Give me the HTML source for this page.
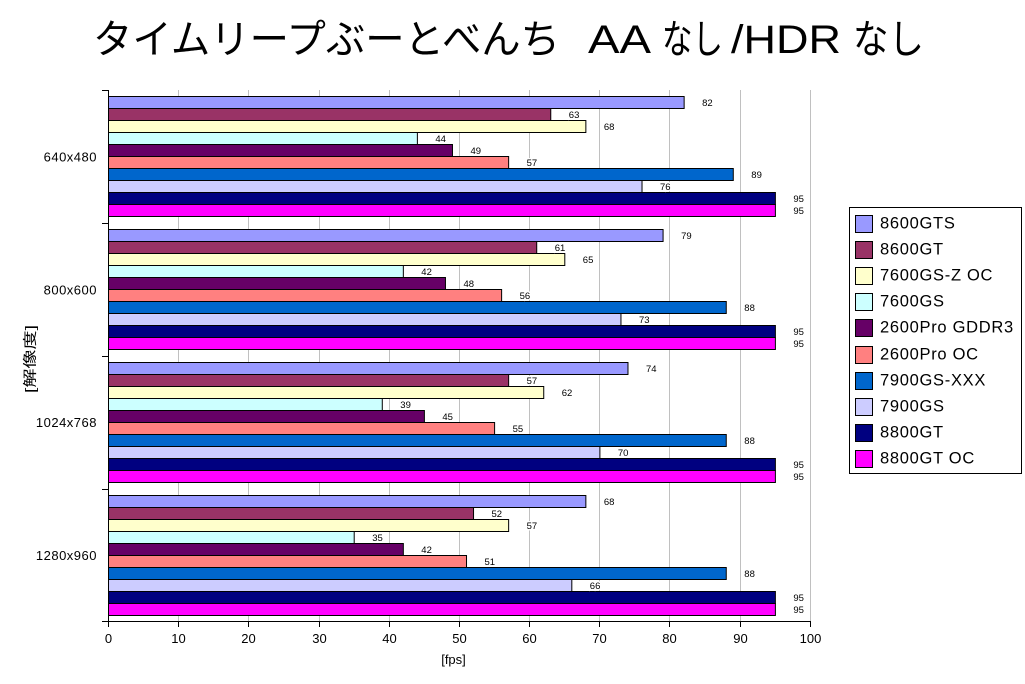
<!DOCTYPE html>
<html><head><meta charset="utf-8"><style>
html,body{margin:0;padding:0;background:#fff;}
svg{display:block;}
text{font-family:"Liberation Sans","Noto Sans CJK JP",sans-serif;fill:#000;}
.t{font-family:"Noto Sans CJK JP","Liberation Sans",sans-serif;font-size:40px;}
.tl{font-family:"Liberation Sans","Noto Sans CJK JP",sans-serif;font-size:40px;}
.dl{font-size:9.5px;stroke:#fff;stroke-width:3;paint-order:stroke;}
.ax{font-size:13px;}
.lg{font-size:16.5px;letter-spacing:0.7px;}
rect.b{stroke:#000;stroke-width:1;}
</style></head><body>
<svg width="1025" height="684" viewBox="0 0 1025 684" xmlns="http://www.w3.org/2000/svg">
<rect width="1025" height="684" fill="#fff"/>
<!-- Title -->
<text class="t" x="93" y="53" textLength="467" lengthAdjust="spacingAndGlyphs">タイムリープぶーとべんち</text>
<text class="tl" x="588" y="53" textLength="63" lengthAdjust="spacingAndGlyphs">AA</text>
<text class="t" x="662" y="53" textLength="61" lengthAdjust="spacingAndGlyphs">なし</text>
<text class="tl" x="731" y="53" textLength="110" lengthAdjust="spacingAndGlyphs">/HDR</text>
<text class="t" x="853" y="53" textLength="71" lengthAdjust="spacingAndGlyphs">なし</text>

<!-- gridlines -->
<g stroke="#c0c0c0" stroke-width="1">
<line x1="178.5" y1="90" x2="178.5" y2="621"/>
<line x1="248.5" y1="90" x2="248.5" y2="621"/>
<line x1="319.5" y1="90" x2="319.5" y2="621"/>
<line x1="389.5" y1="90" x2="389.5" y2="621"/>
<line x1="459.5" y1="90" x2="459.5" y2="621"/>
<line x1="529.5" y1="90" x2="529.5" y2="621"/>
<line x1="599.5" y1="90" x2="599.5" y2="621"/>
<line x1="669.5" y1="90" x2="669.5" y2="621"/>
<line x1="740.5" y1="90" x2="740.5" y2="621"/>
<line x1="810.5" y1="90" x2="810.5" y2="621"/>
</g>

<!-- bars group 0 -->
<g>
<rect class="b" x="108.5" y="96.5" width="575.64" height="12" fill="#9999FF"/>
<rect class="b" x="108.5" y="108.5" width="442.26" height="12" fill="#993366"/>
<rect class="b" x="108.5" y="120.5" width="477.36" height="12" fill="#FFFFCC"/>
<rect class="b" x="108.5" y="132.5" width="308.88" height="12" fill="#CCFFFF"/>
<rect class="b" x="108.5" y="144.5" width="343.98" height="12" fill="#660066"/>
<rect class="b" x="108.5" y="156.5" width="400.14" height="12" fill="#FF8080"/>
<rect class="b" x="108.5" y="168.5" width="624.78" height="12" fill="#0066CC"/>
<rect class="b" x="108.5" y="180.5" width="533.52" height="12" fill="#CCCCFF"/>
<rect class="b" x="108.5" y="192.5" width="666.9" height="12" fill="#000080"/>
<rect class="b" x="108.5" y="204.5" width="666.9" height="12" fill="#FF00FF"/>
</g>
<g>
<rect class="b" x="108.5" y="229.5" width="554.58" height="12" fill="#9999FF"/>
<rect class="b" x="108.5" y="241.5" width="428.22" height="12" fill="#993366"/>
<rect class="b" x="108.5" y="253.5" width="456.3" height="12" fill="#FFFFCC"/>
<rect class="b" x="108.5" y="265.5" width="294.84" height="12" fill="#CCFFFF"/>
<rect class="b" x="108.5" y="277.5" width="336.96" height="12" fill="#660066"/>
<rect class="b" x="108.5" y="289.5" width="393.12" height="12" fill="#FF8080"/>
<rect class="b" x="108.5" y="301.5" width="617.76" height="12" fill="#0066CC"/>
<rect class="b" x="108.5" y="313.5" width="512.46" height="12" fill="#CCCCFF"/>
<rect class="b" x="108.5" y="325.5" width="666.9" height="12" fill="#000080"/>
<rect class="b" x="108.5" y="337.5" width="666.9" height="12" fill="#FF00FF"/>
</g>
<g>
<rect class="b" x="108.5" y="362.5" width="519.48" height="12" fill="#9999FF"/>
<rect class="b" x="108.5" y="374.5" width="400.14" height="12" fill="#993366"/>
<rect class="b" x="108.5" y="386.5" width="435.24" height="12" fill="#FFFFCC"/>
<rect class="b" x="108.5" y="398.5" width="273.78" height="12" fill="#CCFFFF"/>
<rect class="b" x="108.5" y="410.5" width="315.9" height="12" fill="#660066"/>
<rect class="b" x="108.5" y="422.5" width="386.1" height="12" fill="#FF8080"/>
<rect class="b" x="108.5" y="434.5" width="617.76" height="12" fill="#0066CC"/>
<rect class="b" x="108.5" y="446.5" width="491.4" height="12" fill="#CCCCFF"/>
<rect class="b" x="108.5" y="458.5" width="666.9" height="12" fill="#000080"/>
<rect class="b" x="108.5" y="470.5" width="666.9" height="12" fill="#FF00FF"/>
</g>
<g>
<rect class="b" x="108.5" y="495.5" width="477.36" height="12" fill="#9999FF"/>
<rect class="b" x="108.5" y="507.5" width="365.04" height="12" fill="#993366"/>
<rect class="b" x="108.5" y="519.5" width="400.14" height="12" fill="#FFFFCC"/>
<rect class="b" x="108.5" y="531.5" width="245.7" height="12" fill="#CCFFFF"/>
<rect class="b" x="108.5" y="543.5" width="294.84" height="12" fill="#660066"/>
<rect class="b" x="108.5" y="555.5" width="358.02" height="12" fill="#FF8080"/>
<rect class="b" x="108.5" y="567.5" width="617.76" height="12" fill="#0066CC"/>
<rect class="b" x="108.5" y="579.5" width="463.32" height="12" fill="#CCCCFF"/>
<rect class="b" x="108.5" y="591.5" width="666.9" height="12" fill="#000080"/>
<rect class="b" x="108.5" y="603.5" width="666.9" height="12" fill="#FF00FF"/>
</g>

<!-- data labels -->
<g class="dl">
<text class="dl" x="702.1" y="106">82</text>
<text class="dl" x="568.8" y="118">63</text>
<text class="dl" x="603.9" y="130">68</text>
<text class="dl" x="435.4" y="142">44</text>
<text class="dl" x="470.5" y="154">49</text>
<text class="dl" x="526.6" y="166">57</text>
<text class="dl" x="751.3" y="178">89</text>
<text class="dl" x="660.0" y="190">76</text>
<text class="dl" x="793.4" y="202">95</text>
<text class="dl" x="793.4" y="214">95</text>

<text class="dl" x="681.1" y="239">79</text>
<text class="dl" x="554.7" y="251">61</text>
<text class="dl" x="582.8" y="263">65</text>
<text class="dl" x="421.3" y="275">42</text>
<text class="dl" x="463.5" y="287">48</text>
<text class="dl" x="519.6" y="299">56</text>
<text class="dl" x="744.3" y="311">88</text>
<text class="dl" x="639.0" y="323">73</text>
<text class="dl" x="793.4" y="335">95</text>
<text class="dl" x="793.4" y="347">95</text>

<text class="dl" x="646.0" y="372">74</text>
<text class="dl" x="526.6" y="384">57</text>
<text class="dl" x="561.7" y="396">62</text>
<text class="dl" x="400.3" y="408">39</text>
<text class="dl" x="442.4" y="420">45</text>
<text class="dl" x="512.6" y="432">55</text>
<text class="dl" x="744.3" y="444">88</text>
<text class="dl" x="617.9" y="456">70</text>
<text class="dl" x="793.4" y="468">95</text>
<text class="dl" x="793.4" y="480">95</text>

<text class="dl" x="603.9" y="505">68</text>
<text class="dl" x="491.5" y="517">52</text>
<text class="dl" x="526.6" y="529">57</text>
<text class="dl" x="372.2" y="541">35</text>
<text class="dl" x="421.3" y="553">42</text>
<text class="dl" x="484.5" y="565">51</text>
<text class="dl" x="744.3" y="577">88</text>
<text class="dl" x="589.8" y="589">66</text>
<text class="dl" x="793.4" y="601">95</text>
<text class="dl" x="793.4" y="613">95</text>
</g>

<!-- axes -->
<g stroke="#000" stroke-width="1">
<line x1="108.5" y1="90" x2="108.5" y2="622"/>
<line x1="102" y1="90.5" x2="108.5" y2="90.5"/>
<line x1="102" y1="223.5" x2="108.5" y2="223.5"/>
<line x1="102" y1="356.5" x2="108.5" y2="356.5"/>
<line x1="102" y1="489.5" x2="108.5" y2="489.5"/>
<line x1="102" y1="621.5" x2="108.5" y2="621.5"/>
<line x1="108" y1="621.5" x2="811" y2="621.5"/>
<line x1="108.5" y1="621.5" x2="108.5" y2="627"/>
<line x1="178.5" y1="621.5" x2="178.5" y2="627"/>
<line x1="248.5" y1="621.5" x2="248.5" y2="627"/>
<line x1="319.5" y1="621.5" x2="319.5" y2="627"/>
<line x1="389.5" y1="621.5" x2="389.5" y2="627"/>
<line x1="459.5" y1="621.5" x2="459.5" y2="627"/>
<line x1="529.5" y1="621.5" x2="529.5" y2="627"/>
<line x1="599.5" y1="621.5" x2="599.5" y2="627"/>
<line x1="669.5" y1="621.5" x2="669.5" y2="627"/>
<line x1="740.5" y1="621.5" x2="740.5" y2="627"/>
<line x1="810.5" y1="621.5" x2="810.5" y2="627"/>
</g>

<!-- x tick labels -->
<g class="ax" text-anchor="middle">
<text class="ax" x="108.5" y="643" text-anchor="middle">0</text>
<text class="ax" x="178.5" y="643" text-anchor="middle">10</text>
<text class="ax" x="248.5" y="643" text-anchor="middle">20</text>
<text class="ax" x="319.5" y="643" text-anchor="middle">30</text>
<text class="ax" x="389.5" y="643" text-anchor="middle">40</text>
<text class="ax" x="459.5" y="643" text-anchor="middle">50</text>
<text class="ax" x="529.5" y="643" text-anchor="middle">60</text>
<text class="ax" x="599.5" y="643" text-anchor="middle">70</text>
<text class="ax" x="669.5" y="643" text-anchor="middle">80</text>
<text class="ax" x="740.5" y="643" text-anchor="middle">90</text>
<text class="ax" x="810.5" y="643" text-anchor="middle">100</text>
</g>
<text class="ax" x="453.5" y="664" text-anchor="middle">[fps]</text>

<!-- y labels -->
<text class="ax" x="97" y="161.5" text-anchor="end" letter-spacing="0.5">640x480</text>
<text class="ax" x="97" y="294.5" text-anchor="end" letter-spacing="0.5">800x600</text>
<text class="ax" x="97" y="427" text-anchor="end" letter-spacing="0.5">1024x768</text>
<text class="ax" x="97" y="560" text-anchor="end" letter-spacing="0.5">1280x960</text>
<text x="0" y="0" font-size="14" text-anchor="middle" textLength="68" lengthAdjust="spacingAndGlyphs" transform="translate(35,359) rotate(-90)">[解像度]</text>

<!-- legend -->
<rect x="849.5" y="207.5" width="172" height="266" fill="#fff" stroke="#000" stroke-width="1"/>
<g stroke="#000" stroke-width="1">
<rect x="855.5" y="215.5" width="17" height="17" fill="#9999FF"/>
<rect x="855.5" y="241.5" width="17" height="17" fill="#993366"/>
<rect x="855.5" y="267.5" width="17" height="17" fill="#FFFFCC"/>
<rect x="855.5" y="293.5" width="17" height="17" fill="#CCFFFF"/>
<rect x="855.5" y="319.5" width="17" height="17" fill="#660066"/>
<rect x="855.5" y="346.5" width="17" height="17" fill="#FF8080"/>
<rect x="855.5" y="372.5" width="17" height="17" fill="#0066CC"/>
<rect x="855.5" y="398.5" width="17" height="17" fill="#CCCCFF"/>
<rect x="855.5" y="424.5" width="17" height="17" fill="#000080"/>
<rect x="855.5" y="450.5" width="17" height="17" fill="#FF00FF"/>
</g>
<text class="lg" x="880" y="228.5">8600GTS</text>
<text class="lg" x="880" y="254.5">8600GT</text>
<text class="lg" x="880" y="280.5">7600GS-Z OC</text>
<text class="lg" x="880" y="306.5">7600GS</text>
<text class="lg" x="880" y="332.5">2600Pro GDDR3</text>
<text class="lg" x="880" y="359.5">2600Pro OC</text>
<text class="lg" x="880" y="385.5">7900GS-XXX</text>
<text class="lg" x="880" y="411.5">7900GS</text>
<text class="lg" x="880" y="437.5">8800GT</text>
<text class="lg" x="880" y="463.5">8800GT OC</text>
</svg>
</body></html>
